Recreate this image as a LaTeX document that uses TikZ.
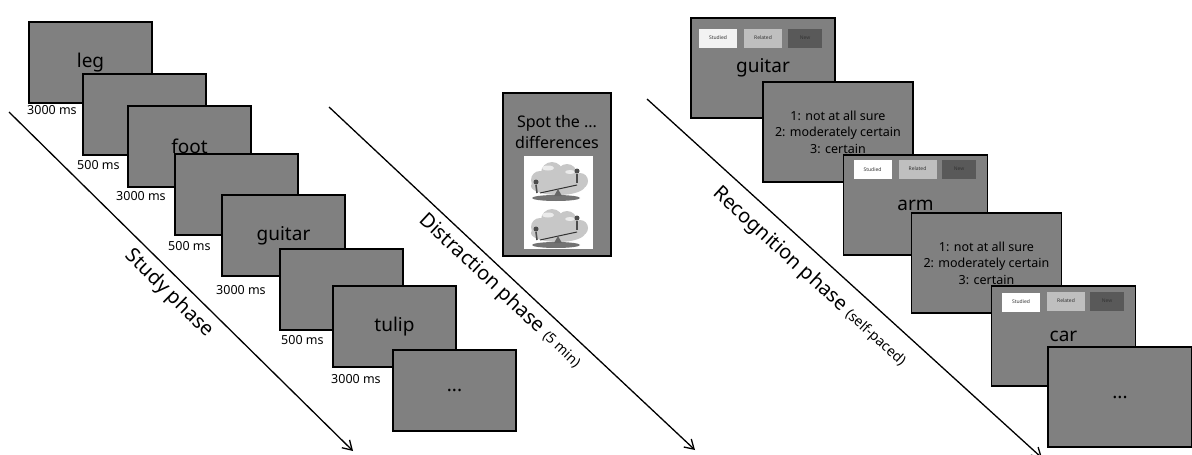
\documentclass[tikz,border=0pt]{standalone}
\usepackage{fontspec}
\setmainfont{Noto Sans}
\usetikzlibrary{arrows.meta}
\definecolor{scrgray}{RGB}{128,128,128}
\definecolor{btnlight}{RGB}{191,191,191}
\definecolor{btndark}{RGB}{89,89,89}

\begin{document}
\begin{tikzpicture}[x=1pt,y=-1pt,
    screen/.style={draw=black,line width=1.2pt,fill=scrgray,inner sep=0pt,
      minimum width=123pt,minimum height=81pt,font=\fontsize{19}{22}\selectfont},
    rscreen/.style={screen,minimum width=144pt,minimum height=100pt},
    rating/.style={rscreen,minimum width=150pt,align=center,
      font=\fontsize{12.5}{16.5}\selectfont},
    timing/.style={anchor=west,inner sep=0pt,font=\fontsize{12.5}{15}\selectfont},
    btn/.style={inner sep=0pt,minimum width=38pt,minimum height=19pt,
      text=black!80,font=\fontsize{5}{6}\selectfont},
    phase/.style={sloped,below=3pt,font=\fontsize{20}{24}\selectfont},
    timeline/.style={line width=1.3pt,-{Straight Barb[length=9pt,width=11pt]}}]
  \useasboundingbox (0,0) rectangle (1192,455);
  %% Time arrows
  \coordinate (a1) at (9,112);
  \coordinate (b1) at (353,451);
  \coordinate (a2) at (329,107);
  \coordinate (b2) at (695,450);
  \coordinate (a3) at (647,99);
  \coordinate (b3) at (1042,458);
  \draw[timeline] (a1) -- node[pos=0.5,phase] {Study phase} (b1);
  \draw[timeline] (a2) -- node[pos=0.5,phase]
    {Distraction phase {\fontsize{14}{16}\selectfont(5 min)}} (b2);
  \draw[timeline] (a3) -- node[pos=0.45,phase,below=5pt]
    {Recognition phase {\fontsize{14}{16}\selectfont(self-paced)}} (b3);
  %% Study screens
  \node[screen] (s1) at (90.5,62.5) {leg};
  \node[screen] (s2) at (144.5,114.5) {};
  \node[screen] (s3) at (189.5,146.5) {foot};
  \node[screen] (s4) at (236.5,194.5) {};
  \node[screen] (s5) at (283.5,235.5) {guitar};
  \node[screen] (s6) at (341.5,289.5) {};
  \node[screen] (s7) at (394.5,326.5) {tulip};
  \node[screen] (s8) at (454.5,390.5) {...};
  %% Durations
  \node[timing] (t1) at (27,110) {3000 ms};
  \node[timing] (t2) at (77,165) {500 ms};
  \node[timing] (t3) at (116,196) {3000 ms};
  \node[timing] (t4) at (168,246) {500 ms};
  \node[timing] (t5) at (216,290) {3000 ms};
  \node[timing] (t6) at (281,340) {500 ms};
  \node[timing] (t7) at (331,379) {3000 ms};
  %% Distraction screen
  \node[screen,minimum width=108pt,minimum height=163pt] (d) at (557,174.5) {};
  \node[align=center,font=\fontsize{16}{21}\selectfont] (dtext) at (557,132) {Spot the ...\\differences};
  \node[fill=white,inner sep=0pt,minimum width=69pt,minimum height=93pt] (dpic) at (558.5,202.5) {};
  \foreach \dy in {0,47} {
    \begin{scope}[shift={(0,\dy)}]
      \fill[black!22] (540,180) circle (9) (552,173) circle (11) (567,174) circle (10)
        (580,181) circle (8) (558,186) ellipse (27 and 9);
      \fill[black!8] (548,168) ellipse (6 and 2.5) (570,172) ellipse (5 and 2);
      \fill[black!55] (556,198) ellipse (24 and 3);
      \draw[black!80,line width=1pt] (540,193) -- (577,185);
      \fill[black!60] (558,189) -- (554,196) -- (562,196) -- cycle;
      \fill[black!70] (536,182) circle (2.5);
      \draw[black!70,line width=1.6pt] (536,185) -- (537,193);
      \fill[black!70] (577,171) circle (2.5);
      \draw[black!70,line width=1.6pt] (577,174) -- (577,183);
    \end{scope}
  }
  %% Recognition screens
  \node[rscreen] (r1) at (763,68) {guitar};
  \node[btn,fill=black!5] (r1s) at (718,38) {Studied};
  \node[btn,fill=btnlight] (r1r) at (763,38) {Related};
  \node[btn,fill=btndark,minimum width=34pt] (r1n) at (805,38) {New};
  \node[rating] (r2) at (838,132) {1: not at all sure\\2: moderately certain\\3: certain};
  \node[rscreen] (r3) at (915.5,205) {arm};
  \node[btn,fill=white] (r3s) at (872.5,169.5) {Studied};
  \node[btn,fill=btnlight] (r3r) at (917.5,169) {Related};
  \node[btn,fill=btndark,minimum width=34pt] (r3n) at (959,169) {New};
  \node[rating] (r4) at (986.5,263) {1: not at all sure\\2: moderately certain\\3: certain};
  \node[rscreen] (r5) at (1063.5,336) {car};
  \node[btn,fill=white] (r5s) at (1021,302) {Studied};
  \node[btn,fill=btnlight] (r5r) at (1066,301) {Related};
  \node[btn,fill=btndark,minimum width=34pt] (r5n) at (1107,301) {New};
  \node[rscreen] (r6) at (1120,397) {...};
\end{tikzpicture}
\end{document}
